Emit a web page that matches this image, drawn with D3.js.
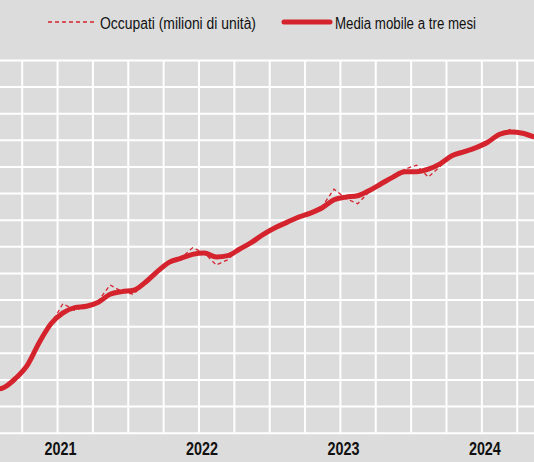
<!DOCTYPE html>
<html>
<head>
<meta charset="utf-8">
<script src="https://cdn.jsdelivr.net/npm/d3@7"></script>
<style>
  body { margin: 0; background: #dcdcdc; }
  svg { display: block; }
  text { font-family: "Liberation Sans", Arial, sans-serif; fill: #111; }
</style>
</head>
<body>
<svg width="534" height="462"></svg>
<script>
// months shown (Jan 2021 sits just left of the visible area)
const months = [
  "2021-01","2021-02","2021-03","2021-04","2021-05","2021-06","2021-07","2021-08","2021-09","2021-10","2021-11","2021-12",
  "2022-01","2022-02","2022-03","2022-04","2022-05","2022-06","2022-07","2022-08","2022-09","2022-10","2022-11","2022-12",
  "2023-01","2023-02","2023-03","2023-04","2023-05","2023-06","2023-07","2023-08","2023-09","2023-10","2023-11","2023-12",
  "2024-01","2024-02","2024-03","2024-04","2024-05","2024-06","2024-07","2024-08","2024-09","2024-10","2024-11"
];

// Occupati (milioni di unità) - monthly
const occupati = [
  22.12, 22.14, 22.19, 22.31, 22.48, 22.62, 22.77, 22.72, 22.75, 22.79, 22.91, 22.86,
  22.84, 22.93, 23.01, 23.08, 23.11, 23.19, 23.15, 23.06, 23.10, 23.19, 23.24, 23.29,
  23.34, 23.38, 23.42, 23.45, 23.50, 23.63, 23.56, 23.52, 23.61, 23.67, 23.72, 23.78,
  23.81, 23.72, 23.80, 23.88, 23.91, 23.94, 23.98, 24.04, 24.08, 24.05, 24.02
];

// Media mobile a tre mesi
const media = [
  22.12, 22.14, 22.21, 22.31, 22.48, 22.62, 22.70, 22.74, 22.75, 22.78, 22.84, 22.86,
  22.87, 22.93, 23.01, 23.08, 23.11, 23.14, 23.15, 23.12, 23.13, 23.18, 23.23, 23.29,
  23.34, 23.38, 23.42, 23.45, 23.49, 23.55, 23.57, 23.58, 23.62, 23.67, 23.72, 23.76,
  23.76, 23.78, 23.82, 23.88, 23.91, 23.94, 23.98, 24.04, 24.06, 24.05, 24.02
];

const years = ["2021", "2022", "2023", "2024"];
const yTicks = [21.8, 22.0, 22.2, 22.4, 22.6, 22.8, 23.0, 23.2, 23.4, 23.6, 23.8, 24.0, 24.2, 24.4, 24.6];

const svg = d3.select("svg"),
    width = +svg.attr("width"),
    height = +svg.attr("height");

const red = "#d4232d";

// month index -> pixel (the plot runs past both edges of the picture)
const start = new Date(2021, 0, 1);
const monthIdx = s => d3.timeMonth.count(start, d3.timeParse("%Y-%m")(s));

const x = d3.scaleLinear()
    .domain([0, 12])
    .range([-13.66, 127.77]);

const y = d3.scaleLinear()
    .domain([21.8, 24.6])
    .range([432.7, 60]);

svg.append("rect")
    .attr("width", width)
    .attr("height", height)
    .attr("fill", "#dcdcdc");

// horizontal grid
svg.append("g")
    .call(d3.axisRight(y).tickValues(yTicks).tickSize(width).tickFormat(""))
    .call(g => g.select(".domain").remove())
    .call(g => g.selectAll("line").attr("stroke", "#fff").attr("stroke-width", 2));

// vertical grid, one line per quarter
const qTicks = d3.range(0, 49, 3);
svg.append("g")
    .attr("transform", `translate(0,${y(24.6)})`)
    .call(d3.axisBottom(x).tickValues(qTicks).tickSize(y(21.8) - y(24.6)).tickFormat(""))
    .call(g => g.select(".domain").remove())
    .call(g => g.selectAll("line").attr("stroke", "#fff").attr("stroke-width", 2));

// year labels
svg.append("g")
    .selectAll("text")
    .data(years)
    .join("text")
    .attr("x", (d, i) => x(i * 12 + 6.3) - 16)
    .attr("y", 455)
    .attr("textLength", 32)
    .attr("lengthAdjust", "spacingAndGlyphs")
    .style("font-size", "18px")
    .style("font-weight", "bold")
    .text(d => d);

const pts = s => months.map((m, i) => [monthIdx(m) + 0.5, s[i]]);

svg.append("path")
    .datum(pts(occupati))
    .attr("d", d3.line().x(d => x(d[0])).y(d => y(d[1])))
    .attr("fill", "none")
    .attr("stroke", red)
    .attr("stroke-width", 1.3)
    .attr("stroke-dasharray", "4,3");

svg.append("path")
    .datum(pts(media))
    .attr("d", d3.line().x(d => x(d[0])).y(d => y(d[1])).curve(d3.curveMonotoneX))
    .attr("fill", "none")
    .attr("stroke", red)
    .attr("stroke-width", 5)
    .attr("stroke-linejoin", "round");

// legend
const legend = svg.append("g").style("font-size", "16px");

legend.append("line")
    .attr("x1", 48).attr("x2", 97).attr("y1", 22).attr("y2", 22)
    .attr("stroke", red).attr("stroke-width", 1.3).attr("stroke-dasharray", "4,3");
legend.append("text")
    .attr("x", 100).attr("y", 28.5)
    .attr("textLength", 156)
    .attr("lengthAdjust", "spacingAndGlyphs")
    .text("Occupati (milioni di unità)");

legend.append("line")
    .attr("x1", 284).attr("x2", 330).attr("y1", 22).attr("y2", 22)
    .attr("stroke", red).attr("stroke-width", 5).attr("stroke-linecap", "round");
legend.append("text")
    .attr("x", 335).attr("y", 28.5)
    .attr("textLength", 141)
    .attr("lengthAdjust", "spacingAndGlyphs")
    .text("Media mobile a tre mesi");
</script>
</body>
</html>
